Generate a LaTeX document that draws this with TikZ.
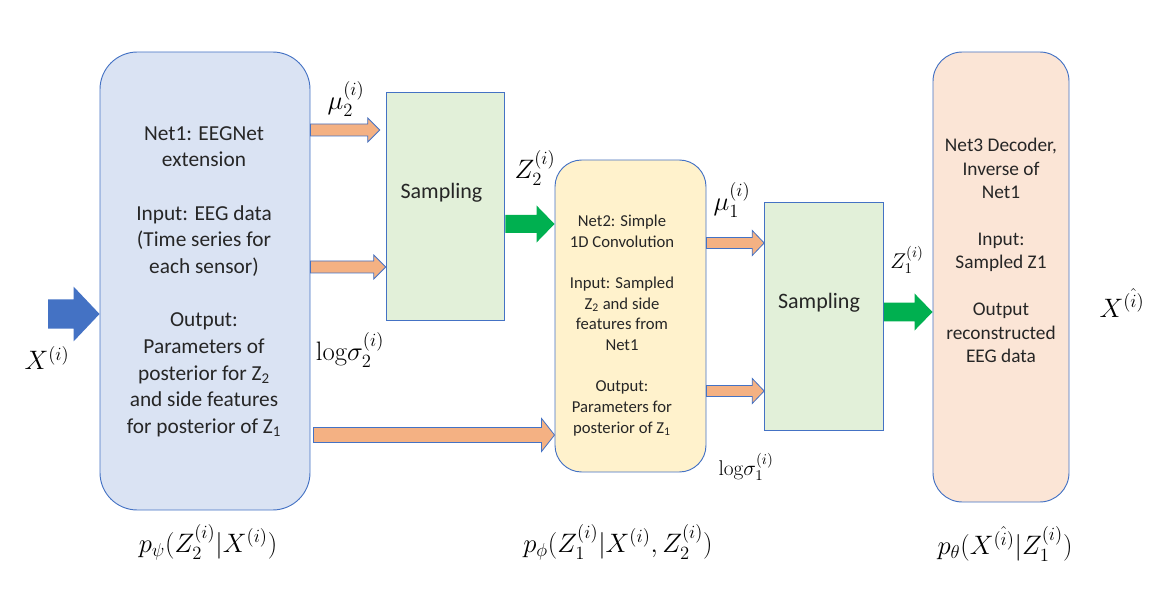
\RequirePackage{fix-cm}
\documentclass[tikz,border=0pt]{standalone}
\usepackage{amsmath}
\usepackage{amssymb}
\usepackage{fontspec}
\newfontfamily\calibri{Carlito}
\usetikzlibrary{calc}
\usepackage{xcolor}
\definecolor{boxline}{HTML}{4472C4}
\definecolor{netonefill}{HTML}{DAE3F3}
\definecolor{sampfill}{HTML}{E2F0D9}
\definecolor{nettwofill}{HTML}{FFF2CC}
\definecolor{netthreefill}{HTML}{FBE5D6}
\definecolor{arrorange}{HTML}{F4B183}
\definecolor{arrgreen}{HTML}{00B050}
\definecolor{arrblue}{HTML}{4472C4}

\newcommand{\fatarrow}[6]{%
  \filldraw[#1] let \p1=(#2), \p2=(#3) in
    (\x1,\y1+#4) -- (\x2-#6,\y1+#4) -- (\x2-#6,\y1+#5) -- (\x2,\y1)
    -- (\x2-#6,\y1-#5) -- (\x2-#6,\y1-#4) -- (\x1,\y1-#4) -- cycle;}

\begin{document}
\begin{tikzpicture}[x=0.75pt,y=-0.75pt,
  netbox/.style={draw=boxline, line width=0.7pt},
  sampbox/.style={netbox, fill=sampfill, minimum width=89pt, minimum height=171pt},
  boxtext/.style={align=center, inner sep=0pt, text=black!85},
  mlabel/.style={inner sep=0pt, font=\fontsize{20}{24}\selectfont},
  slabel/.style={inner sep=0pt, font=\fontsize{16}{19}\selectfont},
  orangearrow/.style={fill=arrorange, draw=boxline, line width=0.6pt},
  greenarrow/.style={fill=arrgreen, draw=none},
  bluearrow/.style={fill=arrblue, draw=none}]
  \useasboundingbox (0,0) rectangle (1157,602);

  \node[netbox, fill=netonefill, minimum width=157.5pt, minimum height=343.5pt, rounded corners=28pt] (net1) at (205,281) {};
  \node[sampbox] (samp1) at (445.5,206) {};
  \node[netbox, fill=nettwofill, minimum width=113.25pt, minimum height=234pt, rounded corners=20pt] (net2) at (630.5,316) {};
  \node[sampbox] (samp2) at (824,316.5) {};
  \node[netbox, fill=netthreefill, minimum width=102pt, minimum height=337.5pt, rounded corners=22pt] (net3) at (1001,277) {};

  \node[boxtext, font=\calibri\fontsize{16}{20}\selectfont] (net1text) at (204,281.5)
    {Net1: EEGNet\\extension\\[20pt]Input: EEG data\\(Time series for\\each sensor)\\[20pt]Output:\\Parameters of\\posterior for Z\textsubscript{2}\\and side features\\for posterior of Z\textsubscript{1}};
  \node[boxtext, font=\calibri\fontsize{16.5}{20}\selectfont] (samp1text) at (441.5,193) {Sampling};
  \node[boxtext, font=\calibri\fontsize{12.5}{15.5}\selectfont] (net2text) at (622,325.5)
    {Net2: Simple\\1D Convolution\\[15.5pt]Input: Sampled\\Z\textsubscript{2} and side\\features from\\Net1\\[15.5pt]Output:\\Parameters for\\posterior of Z\textsubscript{1}};
  \node[boxtext, font=\calibri\fontsize{16.5}{20}\selectfont] (samp2text) at (819,303) {Sampling};
  \node[boxtext, font=\calibri\fontsize{14.5}{17.6}\selectfont] (net3text) at (1001,250.5)
    {Net3 Decoder,\\Inverse of\\Net1\\[17.6pt]Input:\\Sampled Z1\\[17.6pt]Output\\reconstructed\\EEG data};

  \node[mlabel] (mu2) at (346,99) {$\mu_2^{(i)}$};
  \node[mlabel] (z2) at (535,168) {$Z_2^{(i)}$};
  \node[mlabel] (ls2) at (350,350) {$\mathrm{log}\sigma_2^{(i)}$};
  \node[mlabel] (mu1) at (732,200) {$\mu_1^{(i)}$};
  \node[slabel] (ls1) at (746,467) {$\mathrm{log}\sigma_1^{(i)}$};
  \node[slabel] (z1) at (907,260) {$Z_1^{(i)}$};
  \node[mlabel] (xin) at (47,358) {$X^{(i)}$};
  \node[mlabel] (xout) at (1122,303) {$X^{\hat{(i)}}$};
  \node[mlabel] (ppsi) at (208,542) {$p_\psi(Z_2^{(i)}|X^{(i)})$};
  \node[mlabel] (pphi) at (618,542) {$p_\phi(Z_1^{(i)}|X^{(i)},Z_2^{(i)})$};
  \node[mlabel] (ptheta) at (1005,544) {$p_\theta(X^{\hat{(i)}}|Z_1^{(i)})$};

  \coordinate (xstart) at (48,314);
  \fatarrow{bluearrow}{xstart}{net1.west |- xstart}{10.9pt}{20.6pt}{19.5pt}
  \fatarrow{orangearrow}{net1.east |- 0,130}{$(samp1.west |- 0,130)+(-6,0)$}{4.5pt}{9pt}{9pt}
  \fatarrow{orangearrow}{net1.east |- 0,267}{samp1.west |- 0,267}{4.5pt}{9pt}{9pt}
  \fatarrow{orangearrow}{$(net1.east |- 0,435)+(3,0)$}{net2.west |- 0,435}{5.6pt}{12.4pt}{9.75pt}
  \fatarrow{greenarrow}{samp1.east |- 0,224}{net2.west |- 0,224}{6.75pt}{13.9pt}{13.5pt}
  \fatarrow{orangearrow}{net2.east |- 0,243}{samp2.west |- 0,243}{4.1pt}{9.4pt}{9pt}
  \fatarrow{orangearrow}{net2.east |- 0,391}{samp2.west |- 0,391}{4.1pt}{9.4pt}{9pt}
  \fatarrow{greenarrow}{samp2.east |- 0,312}{net3.west |- 0,312}{7.1pt}{13.9pt}{13.5pt}
\end{tikzpicture}
\end{document}
